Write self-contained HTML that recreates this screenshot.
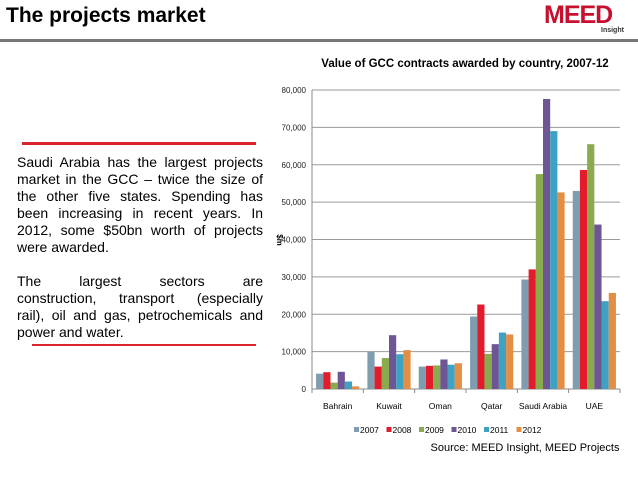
<!DOCTYPE html>
<html><head><meta charset="utf-8"><style>
body{margin:0;width:638px;height:479px;background:#fff;font-family:"Liberation Sans",sans-serif;position:relative;overflow:hidden}
.abs{position:absolute}
.para{position:absolute;left:17px;width:246px;font-size:14px;line-height:17px;color:#000}
.para span{display:block;text-align:justify;text-align-last:justify;white-space:nowrap;height:17px}
.para span.l{text-align-last:left}
</style></head><body>
<div class="abs" style="left:6px;top:4px;font-size:21px;font-weight:bold">The projects market</div>
<div class="abs" style="left:544px;top:1px;font-size:25px;font-weight:bold;color:#c8102e;letter-spacing:-1px">MEED</div>
<div class="abs" style="left:601px;top:27px;font-size:7px;font-weight:bold;color:#333">Insight</div>
<div class="abs" style="left:0;top:39px;width:638px;height:3px;background:#777"></div>
<div class="abs" style="left:22px;top:142px;width:234px;height:3px;background:#d9242b"></div>
<div class="para" style="top:154px">
<span>Saudi Arabia has the largest projects</span>
<span>market in the GCC – twice the size of</span>
<span>the other five states. Spending has</span>
<span>been increasing in recent years. In</span>
<span>2012, some $50bn worth of projects</span>
<span class="l">were awarded.</span>
</div>
<div class="para" style="top:273px">
<span>The largest sectors are</span>
<span>construction, transport (especially</span>
<span>rail), oil and gas, petrochemicals and</span>
<span class="l">power and water.</span>
</div>
<div class="abs" style="left:32px;top:344px;width:224px;height:2px;background:#d9242b"></div>
<svg class="abs" style="left:0;top:0" width="638" height="479" id="chart">
<text x="465" y="67" font-size="11.5" font-weight="bold" text-anchor="middle" font-family="Liberation Sans">Value of GCC contracts awarded by country, 2007-12</text>
<text x="525" y="451" font-size="11" text-anchor="middle" font-family="Liberation Sans">Source: MEED Insight, MEED Projects</text>
</svg>
<script>
const categories=["Bahrain","Kuwait","Oman","Qatar","Saudi Arabia","UAE"];
const years=["2007","2008","2009","2010","2011","2012"];
const colors=["#7f9db0","#e31b2b","#8aaa4e","#6e5594","#3fa2c3","#e38e43"];
const s2007=[4100,9900,6000,19400,29300,53000];
const s2008=[4500,6000,6200,22600,32000,58600];
const s2009=[1700,8300,6300,9400,57500,65500];
const s2010=[4600,14400,7900,12000,77600,44000];
const s2011=[2000,9300,6500,15100,69000,23500];
const s2012=[700,10400,6900,14600,52600,25700];
const series=[s2007,s2008,s2009,s2010,s2011,s2012];
const ticks=[0,10000,20000,30000,40000,50000,60000,70000,80000];
const tickLabels=["0","10,000","20,000","30,000","40,000","50,000","60,000","70,000","80,000"];
const NS="http://www.w3.org/2000/svg";
const svg=document.getElementById('chart');
const x0=312,x1=620,y0=389,y1=90,ymax=80000;
const yS=v=>y0-(v/ymax)*(y0-y1);
const cw=(x1-x0)/categories.length;
const xC=i=>x0+cw*i;
function mk(t,a){const e=document.createElementNS(NS,t);for(const k in a)e.setAttribute(k,a[k]);svg.appendChild(e);return e;}
ticks.forEach((t,i)=>{
 const g=mk('line',{x1:x0,x2:x1,y1:yS(t),y2:yS(t),stroke:i?'#9a9a9a':'#888','stroke-width':1});
 
 
 const l=mk('text',{x:x0-6,y:yS(t)+3,'font-size':8,'text-anchor':'end','font-family':'Liberation Sans',fill:'#222'});
 l.textContent=tickLabels[i];
 
 
});
const ax=mk('line',{x1:x0,x2:x0,y1:y1,y2:y0,stroke:'#888'});


const yt=mk('text',{x:0,y:0,'font-size':8,'font-weight':'bold','font-family':'Liberation Sans',transform:'translate(277,240) rotate(90)','text-anchor':'middle'});
yt.textContent='$m';


const bw=7.2,pad=(cw-bw*6)/2;
categories.forEach((c,i)=>{
 const tk=mk('line',{x1:xC(i),x2:xC(i),y1:y0,y2:y0+4,stroke:'#888'});
 
 
 series.forEach((s,j)=>{
  const v=s[i];
  const r=mk('rect',{x:xC(i)+pad+j*bw,y:yS(v),width:bw,height:y0-yS(v),fill:colors[j]});
  
  
 });
 const t=mk('text',{x:xC(i)+cw/2,y:409,'font-size':8.5,'text-anchor':'middle','font-family':'Liberation Sans'});
 t.textContent=c;
 
 
});
const tk2=mk('line',{x1:x1,x2:x1,y1:y0,y2:y0+4,stroke:'#888'});


let lx=354;
years.forEach((y,j)=>{
 const r=mk('rect',{x:lx,y:427,width:5,height:5,fill:colors[j]});
 
 
 const t=mk('text',{x:lx+6,y:433,'font-size':8.5,'font-family':'Liberation Sans'});
 t.textContent=y;
 
 
 lx+=32.5;
});
</script>
</body></html>
